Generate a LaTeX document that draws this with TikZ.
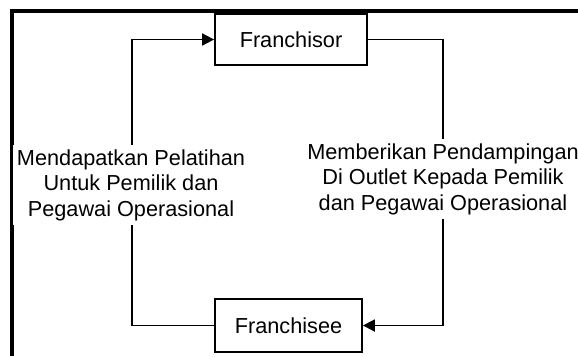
\documentclass[tikz,border=0pt]{standalone}
\usepackage{fontspec}
\setmainfont{Liberation Sans}
\usetikzlibrary{arrows.meta}

\tikzset{
  kotak/.style={draw, line width=1.8pt, inner sep=0pt, align=center},
  alur/.style={line width=1.8pt},
  panah/.style={alur, -{Triangle[length=12pt,width=12pt]}},
  ket/.style={fill=white, inner sep=4pt, align=center}
}

\begin{document}
\begin{tikzpicture}[x=1pt,y=1pt,yscale=-1,xscale=1,font=\fontsize{21.7}{25.5}\selectfont]
\useasboundingbox (0,0) rectangle (578,356);
\clip (0,0) rectangle (578,356);

%Shape: Frame
\draw [line width=3.2pt] (12,356) -- (12,11) -- (578,11) ;

%Shape: Rectangle
\node [kotak, minimum width=152pt, minimum height=51pt] (franchisor) at (291,39.5) {Franchisor};
%Shape: Rectangle
\node [kotak, minimum width=147pt, minimum height=53pt] (franchisee) at (288.5,325.5) {Franchisee};

\coordinate (kiri) at (132,325.5);
\coordinate (kanan) at (443,39.5);

%Straight Lines
\draw [panah] (franchisee.west) -- (kiri) |- (franchisor.west) ;
%Straight Lines
\draw [panah] (franchisor.east) -- (kanan) |- (franchisee.east) ;

% Text Node
\node [ket] (pelatihan) at (131,185) {Mendapatkan Pelatihan\\Untuk Pemilik dan\\Pegawai Operasional};
% Text Node
\node [ket] (pendampingan) at (443,179) {Memberikan Pendampingan\\Di Outlet Kepada Pemilik\\dan Pegawai Operasional};
\end{tikzpicture}
\end{document}
